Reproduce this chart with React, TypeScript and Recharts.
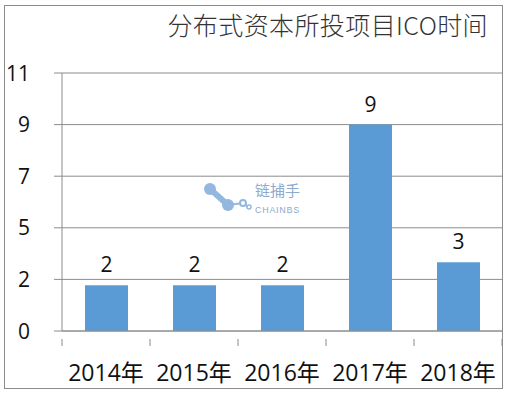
import { Bar, BarChart, CartesianGrid, LabelList, XAxis, YAxis } from "recharts";

const years = ["2014年", "2015年", "2016年", "2017年", "2018年"];
const counts = [2, 2, 2, 9, 3];
const yTicks = [0, 2.25, 4.5, 6.75, 9, 11.25];

const TITLE = "分布式资本所投项目ICO时间";
const BAR_FILL = "#5b9bd5";
const LINE = "#8c8c8c";
const FONT = "'Open Sans', 'Noto Sans CJK SC', sans-serif";
const HALF_BAND = 44;

const data = years.map((year, i) => ({ year, count: counts[i] }));

function YTick({ x, y, payload }: any) {
  return (
    <text x={x - 22} y={y} dy="0.36em" textAnchor="end" fontSize={21} fill="#111" fontFamily={FONT}>
      {Math.round(payload.value)}
    </text>
  );
}

function XTick({ x, y, payload, index }: any) {
  const last = index === years.length - 1;
  return (
    <g>
      <line x1={x - HALF_BAND} x2={x - HALF_BAND} y1={y} y2={y + 7} stroke={LINE} />
      {last && <line x1={x + HALF_BAND} x2={x + HALF_BAND} y1={y} y2={y + 7} stroke={LINE} />}
      <text x={x} y={y + 34} dy="0.36em" textAnchor="middle" fontSize={23} fill="#111" fontFamily={FONT}>
        {payload.value}
      </text>
    </g>
  );
}

// faint "链捕手 CHAINBS" logo in the middle of the plot
function Watermark() {
  const c = "#93b7de";
  return (
    <div style={{ position: "absolute", left: 200, top: 178, width: 115, height: 40, pointerEvents: "none" }}>
      <svg width={115} height={40}>
        <path d="M10 11 L28 27" stroke={c} strokeWidth={6} strokeLinecap="round" />
        <path d="M28 27 L43 25 L48 29" stroke={c} strokeWidth={2} fill="none" />
        <circle cx={10} cy={11} r={6} fill={c} />
        <circle cx={28} cy={27} r={6} fill={c} />
        <circle cx={43} cy={25} r={3} fill="#fff" stroke={c} strokeWidth={2} />
        <circle cx={49} cy={29} r={2} fill="#fff" stroke={c} strokeWidth={1.5} />
        <text x={55} y={18} fontSize={15} fill="#8eaacd" fontFamily="'Noto Sans CJK SC', sans-serif">链捕手</text>
        <text x={55} y={35} fontSize={9} fill="#8eaacd" fontFamily="'Liberation Sans', sans-serif" letterSpacing={0.7}>CHAINBS</text>
      </svg>
    </div>
  );
}

export default function App() {
  return (
    <div style={{ position: "fixed", left: 0, top: 0, width: 510, height: 395, background: "#fff", fontFamily: FONT }}>
      <div
        style={{
          position: "absolute",
          left: 4,
          top: 5,
          width: 499,
          height: 384,
          boxSizing: "border-box",
          border: `1px solid ${LINE}`,
        }}
      />
      <div
        style={{
          position: "absolute",
          right: 22,
          top: 6,
          fontSize: 25,
          letterSpacing: 0.4,
          color: "#333",
          fontWeight: 300,
          fontFamily: "'Noto Sans CJK SC', sans-serif",
          whiteSpace: "nowrap",
        }}
      >
        {TITLE}
      </div>
      <div style={{ position: "absolute", left: 0, top: 0 }}>
        <BarChart width={510} height={395} data={data} margin={{ top: 73, right: 8, bottom: 0, left: 0 }} barSize={43}>
          <CartesianGrid horizontal vertical={false} stroke={LINE} />
          <XAxis
            dataKey="year"
            height={64}
            axisLine={{ stroke: LINE }}
            tickLine={false}
            tick={<XTick />}
            interval={0}
          />
          <YAxis
            width={62}
            domain={[0, 11.25]}
            ticks={yTicks}
            axisLine={{ stroke: LINE }}
            tickLine={{ stroke: LINE }}
            tickSize={8}
            tick={<YTick />}
            interval={0}
          />
          <Bar dataKey="count" fill={BAR_FILL} isAnimationActive={false}>
            <LabelList dataKey="count" position="top" offset={13} fontSize={21} fill="#111" fontFamily={FONT} />
          </Bar>
        </BarChart>
      </div>
      <Watermark />
    </div>
  );
}
